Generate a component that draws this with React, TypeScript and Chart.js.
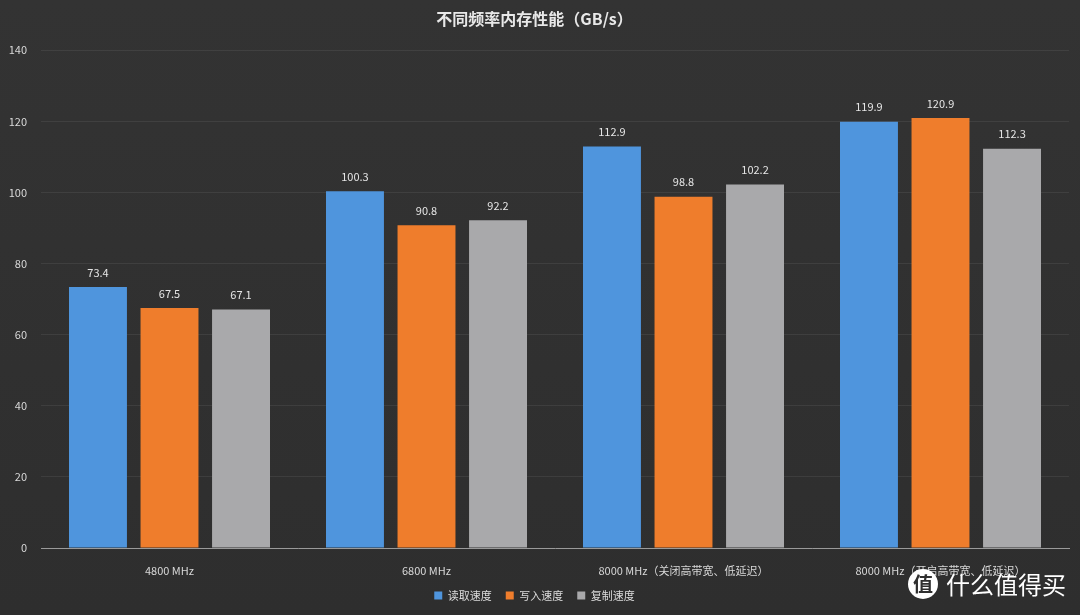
import React, { useEffect, useRef } from "react";
import { Chart, registerables } from "chart.js";

Chart.register(...registerables);

const categories = [
  "4800 MHz",
  "6800 MHz",
  "8000 MHz（关闭高带宽、低延迟）",
  "8000 MHz（开启高带宽、低延迟）",
];
const readSpeed = [73.4, 100.3, 112.9, 119.9];
const writeSpeed = [67.5, 90.8, 98.8, 120.9];
const copySpeed = [67.1, 92.2, 102.2, 112.3];
const seriesNames = ["读取速度", "写入速度", "复制速度"];
const yTicks = [0, 20, 40, 60, 80, 100, 120, 140];

const FONT = "'Noto Sans CJK SC', 'Noto Sans', sans-serif";

const valueLabels = {
  id: "valueLabels",
  afterDatasetsDraw(chart: any) {
    const ctx = chart.ctx;
    ctx.save();
    ctx.fillStyle = "#e6e6e6";
    ctx.font = `11px ${FONT}`;
    ctx.textAlign = "center";
    ctx.textBaseline = "bottom";
    chart.data.datasets.forEach((ds: any, i: number) => {
      const meta = chart.getDatasetMeta(i);
      meta.data.forEach((bar: any, j: number) => {
        ctx.fillText(ds.data[j].toFixed(1), bar.x, bar.y - 9);
      });
    });
    ctx.restore();
  },
};

const bgPlugin = {
  id: "bg",
  beforeDraw(chart: any) {
    const { ctx, width, height } = chart;
    ctx.save();
    const g = ctx.createLinearGradient(0, 0, 0, height);
    g.addColorStop(0, "#333333");
    g.addColorStop(1, "#2e2e2e");
    ctx.fillStyle = g;
    ctx.fillRect(0, 0, width, height);
    ctx.restore();
  },
};

export default function App() {
  const ref = useRef<HTMLCanvasElement | null>(null);

  useEffect(() => {
    document.body.style.margin = "0";
    document.body.style.background = "#2f2f2f";
    if (!ref.current) return;
    const chart = new Chart(ref.current, {
      type: "bar",
      data: {
        labels: categories,
        datasets: [
          { label: seriesNames[0], data: readSpeed, backgroundColor: "#4f95dd" },
          { label: seriesNames[1], data: writeSpeed, backgroundColor: "#ef7d2c" },
          { label: seriesNames[2], data: copySpeed, backgroundColor: "#a9a9ab" },
        ],
      },
      options: {
        animation: false,
        responsive: false,
        maintainAspectRatio: false,
        layout: { padding: { left: 0, right: 11, top: 0, bottom: 4 } },
        datasets: {
          bar: { categoryPercentage: 0.835, barPercentage: 0.81 },
        },
        plugins: {
          title: {
            display: true,
            text: "不同频率内存性能（GB/s）",
            color: "#e8e8e8",
            font: { family: FONT, size: 16, weight: "bold" },
            padding: { top: 9, bottom: 22 },
          },
          legend: {
            position: "bottom",
            labels: {
              color: "#dcdcdc",
              font: { family: FONT, size: 11 },
              boxWidth: 8,
              boxHeight: 8,
              padding: 14,
            },
          },
          tooltip: { enabled: false },
        },
        scales: {
          x: {
            grid: { display: false },
            border: { color: "#9a9a9a", width: 1 },
            ticks: {
              color: "#d8d8d8",
              font: { family: FONT, size: 11 },
              padding: 8,
            },
            afterFit(scale: any) {
              scale.height = 28;
            },
          },
          y: {
            min: 0,
            max: 140,
            afterBuildTicks(scale: any) {
              scale.ticks = yTicks.map((v) => ({ value: v }));
            },
            grid: { color: "rgba(255,255,255,0.07)", drawTicks: false },
            border: { display: false },
            ticks: {
              color: "#d8d8d8",
              font: { family: FONT, size: 11 },
              padding: 14,
            },
            afterFit(scale: any) {
              scale.width = 41;
            },
          },
        },
      },
      plugins: [bgPlugin, valueLabels],
    });
    return () => chart.destroy();
  }, []);

  return (
    <div style={{ position: "relative", width: 1080, height: 615 }}>
      <canvas ref={ref} width={1080} height={615} style={{ display: "block" }} />
      <div
        style={{
          position: "absolute",
          right: 14,
          bottom: 14,
          display: "flex",
          alignItems: "center",
          color: "#ffffff",
          fontFamily: FONT,
          fontSize: 24,
          pointerEvents: "none",
        }}
      >
        <span
          style={{
            display: "inline-flex",
            width: 30,
            height: 30,
            borderRadius: 15,
            background: "#ffffff",
            color: "#2f2f2f",
            fontSize: 20,
            fontWeight: "bold",
            alignItems: "center",
            justifyContent: "center",
            marginRight: 8,
          }}
        >
          值
        </span>
        什么值得买
      </div>
    </div>
  );
}
